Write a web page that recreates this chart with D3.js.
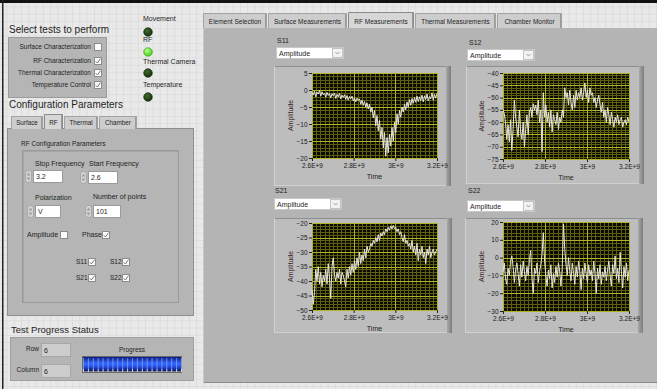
<!DOCTYPE html>
<html>
<head>
<meta charset="utf-8">
<script src="https://cdn.jsdelivr.net/npm/d3@7"></script>
<style>
  html, body { margin: 0; padding: 0; background: #e8e8e8; overflow: hidden; }
  svg { display: block; font-family: "Liberation Sans", Arial, sans-serif; }
</style>
</head>
<body>
<svg id="vi" width="657" height="389"></svg>
<script>
// ---- Sweep settings ----
const sweepStart = 2.6e9;
const sweepStop = 3.2e9;
const freqTicks = [2.6e9, 2.8e9, 3.0e9, 3.2e9];
const freqTickLabels = ["2.6E+9", "2.8E+9", "3E+9", "3.2E+9"];

// ---- Measured traces (101 points each, dB) ----
const s11 = [
  -0.8, -1.5, -0.3, -2.0, -0.6, -1.2, -0.2, -1.8, -0.5, -1.4, -0.9, -2.1, -0.7, -1.6, -1.0, -2.3, -1.1, -1.7, -0.9, -2.5, -1.3, -2.0, -1.0, -2.6, -1.5, -2.2,
  -1.4, -2.8, -1.6, -3.0, -1.9, -2.6, -1.8, -3.2, -2.3, -3.5, -2.4, -3.1, -2.6, -4.2, -3.0, -4.5, -3.4, -5.0, -3.8, -5.6,
  -4.2, -6.5, -5.0, -8.2, -6.0, -10.5, -7.5, -12.0, -9.0, -14.5, -11.0, -17.0, -12.5, -19.5, -14.0,
  -18.5, -13.0, -16.5, -11.0, -15.0, -9.5, -12.5, -7.0, -10.0, -6.0, -8.0, -5.0, -6.5, -4.2, -5.8,
  -3.5, -5.0, -2.8, -4.5, -2.5, -3.9, -2.2, -3.6, -1.8, -3.4, -2.0, -3.1, -1.5, -3.5, -1.7, -2.8, -1.2, -3.2, -1.9, -2.6, -0.8, -3.0, -1.3, -2.4, -1.0
];
const s12 = [
  -55, -56.5, -60, -67, -61, -68, -59, -71.5, -63, -51, -58,
  -62, -66, -55, -64, -67, -60, -70, -63, -57, -65,
  -56, -54, -58, -52.5, -55, -53, -57, -51, -60, -55,
  -72, -48, -58, -53, -60, -56, -62, -55, -64, -57,
  -59, -61, -56, -63, -58, -60, -55, -58, -46, -50,
  -48, -53, -47, -52, -55, -49, -54, -47, -51, -48,
  -50, -46, -51, -48, -44, -50, -47, -52, -46, -49,
  -48, -52, -50, -54, -51, -49, -53, -56, -52, -58,
  -55, -60, -54, -57, -61, -56, -59, -62, -58, -60,
  -57, -61, -59, -58, -62, -60, -59, -61, -58, -60
];
const s21 = [
  -43, -48, -44, -36, -40, -35, -41, -37, -42, -38, -40,
  -36, -41, -34, -39, -46, -35, -32, -38, -40, -37,
  -39, -36, -41, -37, -38, -40, -42, -36, -39, -35,
  -38, -34, -37, -33, -36, -32, -35, -30, -34, -31,
  -33, -29, -32, -28, -30, -29, -27, -28, -26, -27,
  -25, -26.5, -24, -26, -23.5, -24.5, -23, -24, -22, -23,
  -21.5, -22.5, -21, -22, -20.8, -22, -21.5, -23, -22, -24,
  -23, -25, -26.5, -24, -27, -26, -28, -27, -29, -26,
  -30, -28, -31, -27, -33, -29, -31, -28, -32, -30,
  -34, -29, -31, -28, -32, -30, -29, -31, -30, -29
];
const s22 = [
  -8, -3, -12, -15, -6, -10, -2, 1, -5, -14, -7,
  -3, -9, -16, -4, -11, -2, -8, -13, -5, -10,
  -1, 4, -12, -20, -6, -9, -3, -14, -8, -4,
  2, 14, -2, -10, -16, -7, -12, -4, -17, -9,
  -14, -5, -11, -3, -8, -16, -6, 19, 5, -4,
  -10, 0, -8, -13, -3, -9, -15, -5, -11, -2,
  -8, -18, -6, -12, -3, -9, -14, -4, -10, -7,
  -13, -2, -9, -20, -6, -12, -4, -15, -8, -11,
  -5, -13, -7, -2, -10, -16, -4, -9, 1, -12,
  -6, -14, 3, -8, -17, -5, -11, -3, -13, -7
];

// ---- Y axis tick values per graph ----
const s11Ticks = [5, 0, -5, -10, -15, -20];
const s12Ticks = [-40, -45, -50, -55, -60, -65, -70, -75];
const s21Ticks = [-20, -25, -30, -35, -40, -45, -50];
const s22Ticks = [20, 10, 0, -10, -20, -30];

// ---- Front panel controls ----
const testNames = ["Surface Characterization", "RF Characterization", "Thermal Characterization", "Temperature Control"];
const testChecked = [false, true, true, true];
const ledNames = ["Movement", "RF", "Thermal Camera", "Temperature"];
const ledOn = [false, true, false, false];
const configTabs = ["Surface", "RF", "Thermal", "Chamber"];
const mainTabs = ["Element Selection", "Surface Measurements", "RF Measurements", "Thermal Measurements", "Chamber Monitor"];
const stopFrequency = "3.2";
const startFrequency = "2.6";
const polarization = "V";
const numberOfPoints = "101";
const rowValue = "6";
const columnValue = "6";
const progressValue = 100;

const svg = d3.select("#vi");
const defs = svg.append("defs");

// background grid of the panel
const pat = defs.append("pattern").attr("id", "grid").attr("width", 7.3).attr("height", 7.3)
  .attr("patternUnits", "userSpaceOnUse");
pat.append("rect").attr("width", 7.3).attr("height", 7.3).attr("fill", "#e9e9e9");
pat.append("path").attr("d", "M7.3 0V7.3M0 7.3H7.3").attr("stroke", "#d3d3d3").attr("stroke-width", 1);

// progress bar gradient
const pg = defs.append("linearGradient").attr("id", "prog").attr("x1", 0).attr("y1", 0).attr("x2", 0).attr("y2", 1);
[["0%", "#0c1a80"], ["45%", "#3468ff"], ["62%", "#2a5af2"], ["100%", "#0b1672"]].forEach(s =>
  pg.append("stop").attr("offset", s[0]).attr("stop-color", s[1]));

// LED gradients
function ledGrad(id, c0, c1) {
  const g = defs.append("radialGradient").attr("id", id).attr("cx", "40%").attr("cy", "35%").attr("r", "65%");
  g.append("stop").attr("offset", "0%").attr("stop-color", c0);
  g.append("stop").attr("offset", "100%").attr("stop-color", c1);
}
ledGrad("ledOff", "#3f6b2a", "#16320c");
ledGrad("ledOn", "#b8ff8a", "#3fd21c");

// graph frame shading
const fg = defs.append("linearGradient").attr("id", "frameR").attr("x1", 0).attr("x2", 1);
fg.append("stop").attr("offset", "0%").attr("stop-color", "#a9a9a9");
fg.append("stop").attr("offset", "100%").attr("stop-color", "#7c7c7c");

svg.append("rect").attr("width", 657).attr("height", 389).attr("fill", "url(#grid)");
svg.append("rect").attr("x", 0).attr("y", 0).attr("width", 657).attr("height", 3).attr("fill", "#111");
svg.append("rect").attr("x", 2).attr("y", 0).attr("width", 1.5).attr("height", 389).attr("fill", "#222");

// ---- helpers ----
function label(g, x, y, t, size, opts = {}) {
  return g.append("text").attr("x", x).attr("y", y).text(t)
    .attr("font-size", size).attr("fill", opts.fill || "#1e1e1e")
    .attr("text-anchor", opts.anchor || "start");
}
function box(g, x, y, w, h, fill, stroke) {
  return g.append("rect").attr("x", x).attr("y", y).attr("width", w).attr("height", h)
    .attr("fill", fill).attr("stroke", stroke || "none").attr("stroke-width", 1);
}
function checkbox(g, x, y, checked) {
  box(g, x + 0.5, y + 0.5, 7, 7, "#fbfbfb", "#8c8c8c");
  if (checked) {
    g.append("path").attr("d", `M${x + 1.8},${y + 4.3} L${x + 3.4},${y + 6} L${x + 6.6},${y + 1.6}`)
      .attr("fill", "none").attr("stroke", "#7a7a7a").attr("stroke-width", 1);
  }
}
function numeric(g, x, y, w, val) {
  // spinner
  box(g, x - 7.5, y + 0.5, 6, 12, "#d4d4d4", "#a8a8a8").attr("rx", 2.5);
  g.append("path").attr("d", `M${x - 6.5},${y + 5.5} L${x - 4.5},${y + 2.5} L${x - 2.5},${y + 5.5}Z`).attr("fill", "#a0a0a0");
  g.append("path").attr("d", `M${x - 6.5},${y + 7.5} L${x - 4.5},${y + 10.5} L${x - 2.5},${y + 7.5}Z`).attr("fill", "#a0a0a0");
  box(g, x + 0.5, y + 0.5, w, 12, "#ffffff", "#9a9a9a");
  label(g, x + 3, y + 9.3, val, 7);
}
function tab(g, x, y, w, h, t, selected, size) {
  const fill = selected ? "#d7d7d7" : "#cdcdcd";
  g.append("path")
    .attr("d", `M${x + 0.5},${y + h} V${y + 0.5} H${x + w - 0.5} V${y + h}`)
    .attr("fill", fill).attr("stroke", selected ? "#8a8a8a" : "#a2a2a2");
  g.append("line").attr("x1", x + w - 1.5).attr("x2", x + w - 1.5).attr("y1", y + 1).attr("y2", y + h)
    .attr("stroke", "#9a9a9a");
  label(g, x + w / 2, y + h - 3.6, t, size, { anchor: "middle" });
}
function dropdown(g, x, y, w, t) {
  box(g, x + 0.5, y + 0.5, w, 11, "#ffffff", "#c8c8c8");
  box(g, x + w - 10.5, y + 1.5, 10, 9, "#f2f2f2", "#c4c4c4");
  g.append("path").attr("d", `M${x + w - 7.5},${y + 5} L${x + w - 5.5},${y + 7} L${x + w - 3.5},${y + 5}`)
    .attr("fill", "none").attr("stroke", "#8a8a8a").attr("stroke-width", 0.8);
  label(g, x + 3, y + 8.6, t, 7);
}

// ---- Left side: test selection ----
const left = svg.append("g");
label(left, 9, 33, "Select tests to perform", 10);
box(left, 8.5, 37.5, 98, 60, "#b5b5b5", "#9c9c9c");
const testRowY = [43, 57, 69, 81];
testNames.forEach((t, i) => {
  label(left, 91, testRowY[i] + 6.2, t, 6.5, { anchor: "end" });
  checkbox(left, 94, testRowY[i], testChecked[i]);
});

// status LEDs
const ledLabelY = [21, 42, 64, 87];
const ledY = [32, 52, 73, 97];
ledNames.forEach((t, i) => {
  label(left, 143, ledLabelY[i], t, 7);
  left.append("circle").attr("cx", 148).attr("cy", ledY[i]).attr("r", 4.3)
    .attr("fill", ledOn[i] ? "url(#ledOn)" : "url(#ledOff)").attr("stroke", ledOn[i] ? "#3a9a1a" : "#0f230a").attr("stroke-width", 0.6);
});

// configuration tab control
label(left, 9, 108, "Configuration Parameters", 10);
box(left, 7.5, 128.5, 186, 187, "#b5b5b5", "#8f8f8f");
const cfgTabX = [11, 44, 64, 99];
const cfgTabW = [32, 19, 34, 38];
configTabs.forEach((t, i) => {
  const sel = t === "RF";
  tab(left, cfgTabX[i], sel ? 114 : 116, cfgTabW[i], sel ? 15 : 13, t, sel, 6.3);
});
label(left, 21, 146, "RF Configuration Parameters", 6.5);
box(left, 22.5, 150.5, 156, 152, "none", "#9a9a9a");
left.append("path").attr("d", "M23.5,302 V151.5 H178").attr("fill", "none").attr("stroke", "#a6a6a6");

label(left, 35, 166, "Stop Frequency", 7);
numeric(left, 33, 170, 29, stopFrequency);
label(left, 89, 166, "Start Frequency", 7);
numeric(left, 88, 171, 29, startFrequency);
label(left, 35, 200, "Polarization", 7);
numeric(left, 35, 205, 25, polarization);
label(left, 93, 199, "Number of points", 7);
numeric(left, 93, 205, 27, numberOfPoints);

label(left, 27, 237, "Amplitude", 7);
checkbox(left, 60, 231, false);
label(left, 82, 237, "Phase", 7);
checkbox(left, 102, 231, true);
const sParams = [["S11", 76, 258, 88], ["S12", 110, 258, 122], ["S21", 76, 274, 88], ["S22", 110, 274, 122]];
sParams.forEach(p => {
  label(left, p[1], p[2] + 6, p[0], 6.5);
  checkbox(left, p[3], p[2], true);
});

// test progress
label(left, 11, 333, "Test Progress Status", 9.5);
box(left, 10.5, 337.5, 183, 43, "#b5b5b5", "#a0a0a0");
label(left, 39, 351, "Row", 6.5, { anchor: "end" });
box(left, 41.5, 343.5, 29, 13, "#cdcdcd", "#a8a8a8");
label(left, 44, 352.5, rowValue, 7);
label(left, 39, 372, "Column", 6.5, { anchor: "end" });
box(left, 41.5, 364.5, 29, 13, "#cdcdcd", "#a8a8a8");
label(left, 44, 373.5, columnValue, 7);
label(left, 132, 352, "Progress", 6.5, { anchor: "middle" });

const prog = d3.scaleLinear().domain([0, 100]).range([83, 181]);
box(left, 82.5, 356.5, 99, 16, "#7f7f7f", "#6a6a6a");
left.append("rect").attr("x", 83).attr("y", 357).attr("width", prog(progressValue) - 83).attr("height", 14)
  .attr("fill", "url(#prog)");
prog.ticks(15).forEach(v => {
  left.append("line").attr("x1", prog(v) + 0.5).attr("x2", prog(v) + 0.5).attr("y1", 358).attr("y2", 369)
    .attr("stroke", "#9cbaff").attr("stroke-opacity", 0.6);
  left.append("line").attr("x1", prog(v) + 0.5).attr("x2", prog(v) + 0.5).attr("y1", 369).attr("y2", 372)
    .attr("stroke", "#d9d9d9");
});

// ---- Right side: measurement tab control ----
const right = svg.append("g");
box(right, 203, 28, 454, 355, "#b4b4b4");
right.append("line").attr("x1", 203).attr("x2", 657).attr("y1", 382.5).attr("y2", 382.5).attr("stroke", "#8a8a8a");
right.append("line").attr("x1", 203.5).attr("x2", 203.5).attr("y1", 28).attr("y2", 383).attr("stroke", "#c8c8c8");
const mainTabX = [203, 268, 348, 415, 497];
const mainTabW = [64, 79, 66, 81, 65];
mainTabs.forEach((t, i) => {
  const sel = t === "RF Measurements";
  tab(right, mainTabX[i], sel ? 12 : 13, mainTabW[i], sel ? 16 : 15, t, sel, 6.5);
});

function graph(o) {
  const g = right.append("g");
  label(g, o.lx, o.ly, o.name, 7);
  dropdown(g, o.dx, o.dy, 67, "Amplitude");

  // frame
  box(g, o.fx, o.fy, o.fw, o.fh, "#bdbdbd");
  g.append("line").attr("x1", o.fx).attr("x2", o.fx + o.fw).attr("y1", o.fy + 0.5).attr("y2", o.fy + 0.5).attr("stroke", "#8e8e8e");
  g.append("line").attr("x1", o.fx + 0.5).attr("x2", o.fx + 0.5).attr("y1", o.fy).attr("y2", o.fy + o.fh).attr("stroke", "#d2d2d2");
  g.append("line").attr("x1", o.fx).attr("x2", o.fx + o.fw).attr("y1", o.fy + o.fh - 0.5).attr("y2", o.fy + o.fh - 0.5).attr("stroke", "#d0d0d0");
  g.append("rect").attr("x", o.fx + o.fw - 5).attr("y", o.fy).attr("width", 5).attr("height", o.fh).attr("fill", "url(#frameR)");

  const x = d3.scaleLinear().domain([sweepStart, sweepStop]).range([o.px, o.px + o.pw]);
  const y = d3.scaleLinear().domain([o.yTicks[o.yTicks.length - 1], o.yTicks[0]]).range([o.py + o.ph, o.py]);

  g.append("rect").attr("x", o.px).attr("y", o.py).attr("width", o.pw).attr("height", o.ph).attr("fill", "#0a0a00");

  const grid = g.append("g").attr("shape-rendering", "crispEdges");
  const yMinor = d3.range(y.domain()[0], y.domain()[1] + 1e-9, o.minor);
  grid.selectAll(".hm").data(yMinor).join("line")
    .attr("x1", o.px).attr("x2", o.px + o.pw).attr("y1", d => Math.round(y(d)) + 0.5).attr("y2", d => Math.round(y(d)) + 0.5)
    .attr("stroke", "#5f5f12");
  grid.selectAll(".vm").data(x.ticks(30)).join("line")
    .attr("y1", o.py).attr("y2", o.py + o.ph).attr("x1", d => Math.round(x(d)) + 0.5).attr("x2", d => Math.round(x(d)) + 0.5)
    .attr("stroke", "#5f5f12");
  grid.selectAll(".hM").data(o.yTicks).join("line")
    .attr("x1", o.px).attr("x2", o.px + o.pw).attr("y1", d => Math.round(y(d)) + 0.5).attr("y2", d => Math.round(y(d)) + 0.5)
    .attr("stroke", "#b2b226");
  grid.selectAll(".vM").data(freqTicks).join("line")
    .attr("y1", o.py).attr("y2", o.py + o.ph).attr("x1", d => Math.round(x(d)) + 0.5).attr("x2", d => Math.round(x(d)) + 0.5)
    .attr("stroke", "#b2b226");

  const line = d3.line().x((d, i) => x(sweepStart + i * (sweepStop - sweepStart) / (o.values.length - 1))).y(d => y(d));
  g.append("path").datum(o.values).attr("d", line).attr("fill", "none")
    .attr("stroke", "#e6e6e0").attr("stroke-width", 1).attr("stroke-linejoin", "round");

  // axes
  const xa = g.append("g").attr("transform", `translate(0,${o.py + o.ph})`)
    .call(d3.axisBottom(x).tickValues(freqTicks).tickFormat((d, i) => freqTickLabels[i]).tickSize(3).tickPadding(2));
  const ya = g.append("g").attr("transform", `translate(${o.px},0)`)
    .call(d3.axisLeft(y).tickValues(o.yTicks).tickSize(3).tickPadding(1.5));
  [xa, ya].forEach(a => {
    a.select(".domain").remove();
    a.selectAll("line").attr("stroke", "#222");
    a.selectAll("text").attr("font-size", 6.5).attr("fill", "#1a1a1a").attr("font-family", "Liberation Sans, Arial, sans-serif");
  });
  label(g, o.px + o.pw / 2, o.py + o.ph + 21, "Time", 7, { anchor: "middle" });
  g.append("text").attr("transform", `translate(${o.px - 19},${o.py + o.ph / 2}) rotate(-90)`)
    .attr("text-anchor", "middle").attr("font-size", 7).attr("fill", "#3b2424").text("Amplitude");
}

graph({ name: "S11", lx: 277, ly: 43, dx: 276, dy: 47, fx: 274, fy: 66, fw: 177, fh: 120, px: 312, py: 73, pw: 125, ph: 85, values: s11, yTicks: s11Ticks, minor: 1 });
graph({ name: "S12", lx: 469, ly: 45, dx: 467, dy: 49, fx: 466, fy: 66, fw: 178, fh: 118, px: 503, py: 73, pw: 126, ph: 86, values: s12, yTicks: s12Ticks, minor: 1 });
graph({ name: "S21", lx: 275, ly: 193, dx: 274, dy: 198, fx: 274, fy: 218, fw: 178, fh: 115, px: 312, py: 223, pw: 125, ph: 87, values: s21, yTicks: s21Ticks, minor: 1 });
graph({ name: "S22", lx: 468, ly: 193, dx: 467, dy: 200, fx: 465, fy: 218, fw: 178, fh: 115, px: 503, py: 222, pw: 126, ph: 89, values: s22, yTicks: s22Ticks, minor: 2 });
</script>
</body>
</html>
